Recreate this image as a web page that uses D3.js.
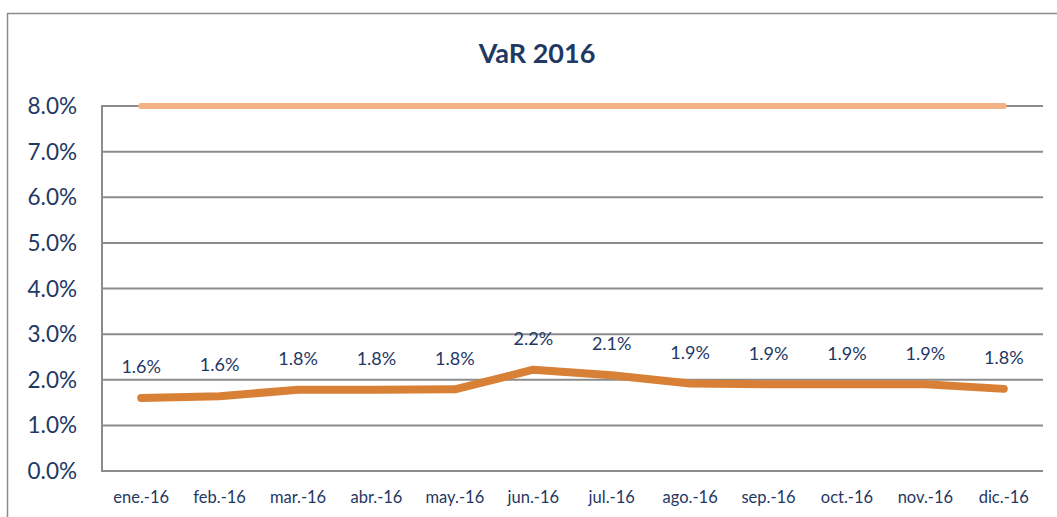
<!DOCTYPE html>
<html><head><meta charset="utf-8">
<script src="https://cdn.jsdelivr.net/npm/d3@7"></script>
<style>
html,body{margin:0;padding:0;background:#fff;}
svg{display:block;font-family:Lato,"Open Sans",sans-serif;}
</style></head>
<body><svg id="c" width="1057" height="517"></svg>
<script>
const months = ["ene.-16","feb.-16","mar.-16","abr.-16","may.-16","jun.-16","jul.-16","ago.-16","sep.-16","oct.-16","nov.-16","dic.-16"];
const varValues = [0.0160,0.0164,0.0178,0.0178,0.0179,0.0222,0.0210,0.0192,0.0190,0.0190,0.0190,0.0180];
const varLabels = ["1.6%","1.6%","1.8%","1.8%","1.8%","2.2%","2.1%","1.9%","1.9%","1.9%","1.9%","1.8%"];
const limitValues = [0.08,0.08,0.08,0.08,0.08,0.08,0.08,0.08,0.08,0.08,0.08,0.08];
const yTicks = [0,0.01,0.02,0.03,0.04,0.05,0.06,0.07,0.08];
const title = "VaR 2016";

const svg = d3.select("#c");
const pLeft = 102, pRight = 1043, pTop = 106, pBottom = 471;
const textColor = "#1f3864";

// outer border
svg.append("path").attr("d","M7.5,517 L7.5,13.5 L1057,13.5").attr("fill","none").attr("stroke","#8c8c8c").attr("stroke-width",1.5);

const x = d3.scaleBand().domain(months).range([pLeft,pRight]);
const y = d3.scaleLinear().domain([0,0.08]).range([pBottom,pTop]);

// gridlines
svg.append("g").selectAll("line").data(yTicks).join("line")
  .attr("x1",pLeft).attr("x2",pRight).attr("y1",d=>y(d)).attr("y2",d=>y(d))
  .attr("stroke","#8c8c8c").attr("stroke-width",2);
svg.append("line").attr("x1",pLeft).attr("x2",pLeft).attr("y1",pTop-1).attr("y2",pBottom+1)
  .attr("stroke","#8c8c8c").attr("stroke-width",2);

// y labels
svg.append("g").selectAll("text").data(yTicks).join("text")
  .attr("x",77).attr("y",d=>y(d)).attr("dy","0.36em").attr("text-anchor","end")
  .attr("font-size",22.5).attr("fill",textColor).text(d=>d3.format(".1%")(d));

// x labels
svg.append("g").selectAll("text").data(months).join("text")
  .attr("x",d=>x(d)+x.bandwidth()/2).attr("y",497).attr("dy","0.35em").attr("text-anchor","middle")
  .attr("font-size",16.5).attr("fill",textColor).text(d=>d);

const cx = (d,i)=>x(months[i])+x.bandwidth()/2;

// limit line
svg.append("path").datum(limitValues)
  .attr("d",d3.line().x((d,i)=>cx(d,i)).y(d=>y(d)))
  .attr("fill","none").attr("stroke","#f4b183").attr("stroke-width",6).attr("stroke-linecap","round");

// VaR line
svg.append("path").datum(varValues)
  .attr("d",d3.line().x((d,i)=>cx(d,i)).y(d=>y(d)))
  .attr("fill","none").attr("stroke","#d98037").attr("stroke-width",8)
  .attr("stroke-linecap","round").attr("stroke-linejoin","round");

// data labels
svg.append("g").selectAll("text").data(varValues).join("text")
  .attr("x",(d,i)=>cx(d,i)).attr("y",d=>y(d)-31).attr("dy","0.35em").attr("text-anchor","middle")
  .attr("font-size",18).attr("fill",textColor).text((d,i)=>varLabels[i]);

// title
svg.append("text").attr("x",537).attr("y",54).attr("dy","0.35em").attr("text-anchor","middle")
  .attr("font-size",27).attr("font-weight","bold").attr("fill",textColor).text(title);
</script></body></html>
